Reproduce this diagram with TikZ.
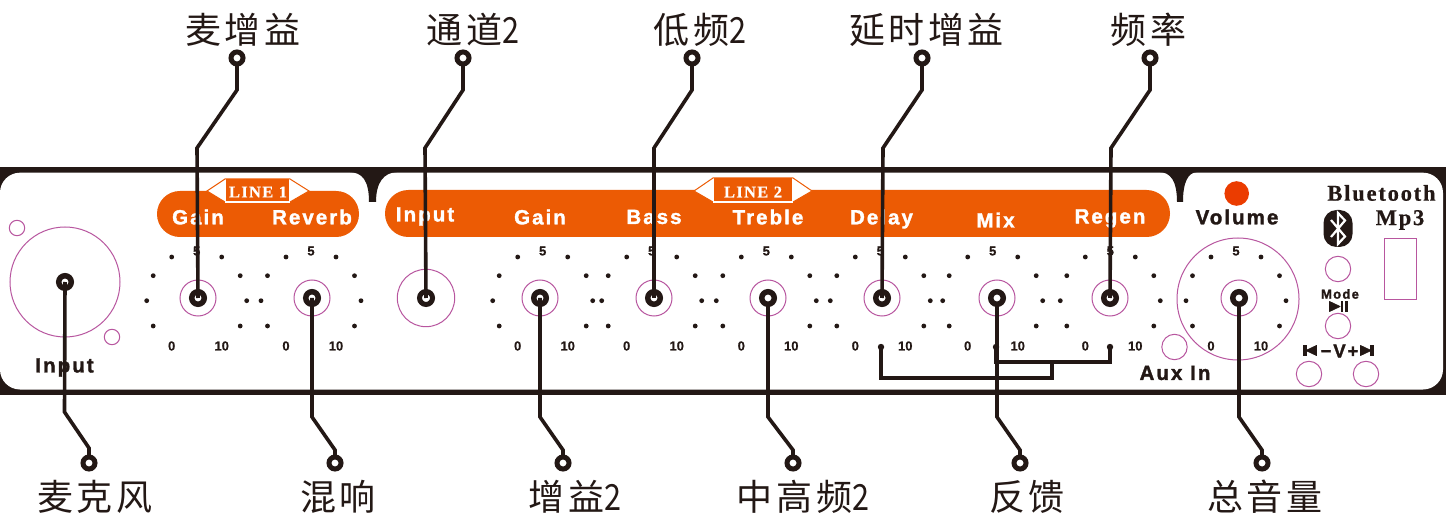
\documentclass[tikz,border=0pt]{standalone}
\usepackage{fontspec}
\usetikzlibrary{calc}
\setmainfont{Liberation Sans}
\newfontfamily\cjkf[LetterSpace=10]{Noto Sans CJK SC}
\newfontfamily\lblf[LetterSpace=10,BoldFeatures={FakeBold=1.6}]{Liberation Sans}
\newfontfamily\numf[BoldFeatures={FakeBold=0.6}]{Liberation Sans}
\newfontfamily\serf[LetterSpace=8,BoldFeatures={FakeBold=0.5}]{Liberation Serif}
\newcommand{\ntwo}{\scalebox{.85}[1]{2}}
\definecolor{ink}{HTML}{231815}
\definecolor{org}{HTML}{EC5B04}
\definecolor{mag}{HTML}{B8569F}
\definecolor{led}{HTML}{EB3C00}
\tikzset{
  x=1pt,y=-1pt,
  cjk/.style={inner sep=0,text=ink,font={\fontsize{36}{36}\selectfont\cjkf}},
  wlabel/.style={inner sep=0,text=white,font={\fontsize{20.5}{20.5}\selectfont\bfseries\lblf}},
  blabel/.style={inner sep=0,text=ink,font={\fontsize{20.5}{20.5}\selectfont\bfseries\lblf}},
  smalllabel/.style={inner sep=0,text=ink,font={\fontsize{13}{13}\selectfont\bfseries\numf}},
  serlabel/.style={inner sep=0,text=ink,font={\fontsize{22.5}{22.5}\selectfont\bfseries\serf}},
  tagtext/.style={inner sep=0,text=white,font={\fontsize{16.5}{16.5}\selectfont\bfseries\serf}},
  term/.style={circle,draw=ink,fill=white,line width=5pt,minimum size=12pt,inner sep=0,outer sep=0},
  knob/.style={circle,draw=ink,fill=white,line width=5.5pt,minimum size=12.5pt,inner sep=0,outer sep=0},
  wire/.style={draw=ink,line width=3.6pt,line join=miter},
  fbwire/.style={draw=ink,line width=3.2pt,line join=miter},
  ring/.style={draw=mag,line width=1pt},
  glyph/.style={fill=ink,draw=ink,line width=.8pt,line join=round},
}
\begin{document}
\begin{tikzpicture}
\useasboundingbox (0,0) rectangle (1446,529);
\fill[white] (0,0) rectangle (1446,529);
% panel
\fill[ink] (0,167.5) rectangle (1446,395);
\fill[white,rounded corners=20pt] (0,172.7) rectangle (1443,389.5);
\fill[ink] (350,172) .. controls (362,172.7) and (369,180) .. (369,202) -- (376,202) .. controls (376,182) and (384,172.7) .. (397,172) -- cycle;
\fill[ink] (1160,172) .. controls (1170,172.7) and (1177,180) .. (1177,202) -- (1183,202) .. controls (1183,182) and (1188,172.7) .. (1197,172) -- cycle;
% pills
\fill[org,rounded corners=22.9pt] (157,191) rectangle (359,237);
\fill[org,rounded corners=23.4pt] (385,190) rectangle (1170,237);
% tags
\draw[org,fill=white,line width=1pt] (207,191) -- (225,179) -- (290,179) -- (309,191) -- (290,202) -- (225,202) -- cycle;
\fill[org] (226,179.5) rectangle (289,201);
\fill[white] (225,201) rectangle (290,203);
\node[tagtext] (tag1) at (258,192) {LINE 1};
\draw[org,fill=white,line width=1pt] (694,191) -- (713,178) -- (793,178) -- (812,191) -- (793,202) -- (713,202) -- cycle;
\fill[org] (714,178.5) rectangle (792,201);
\fill[white] (713,201) rectangle (793,203);
\node[tagtext] (tag2) at (753,192) {LINE 2};
% pill labels
\node[wlabel] (lGain1) at (198,217) {Gain};
\node[wlabel] (lRev) at (312,217) {Reverb};
\node[wlabel] (lIn2) at (425,216.5) {Input};
\node[wlabel] (lGain2) at (540,217) {Gain};
\node[wlabel] (lBass) at (654,217) {Bass};
\node[wlabel] (lTreb) at (768,217) {Treble};
\node[wlabel] (lDel) at (881.5,219) {Delay};
\node[wlabel] (lMix) at (995.5,220) {Mix};
\node[wlabel] (lReg) at (1110,218.5) {Regen};
\node[blabel] (lIn1) at (64.5,367.5) {Input};
\node[blabel] (lVol) at (1237,217) {Volume};
\node[blabel] (lAux) at (1175,373) {Aux In};
% dial scales
\foreach \dc [count=\i] in {196.7,311,542.7,651.7,766.3,880.3,992.7,1110.3,1236}{
  \foreach \dx/\dy in {-25/257,25/257,-43.5/275.7,43.5/275.7,-50/300.7,50/300.7,-43.5/326,43.5/326}
    \fill[ink] (\dc+\dx,\dy) circle (2.4);
  \node[smalllabel] (five\i) at (\dc,251) {5};
  \node[smalllabel] (zero\i) at (\dc-25,346) {0};
  \node[smalllabel] (ten\i) at (\dc+25,346) {10};
}
% rings
\draw[ring] (65,282) circle (55);
\draw[ring] (17,228) circle (7.7);
\draw[ring] (112,337) circle (7.7);
\foreach \cx in {198,312,540,654,768,882,997,1110,1239}
  \draw[ring] (\cx,298) circle (18);
\draw[ring] (426,298) circle (28.7);
\draw[ring] (1238,299) circle (61);
\draw[ring] (1174.5,347) circle (12.7);
\draw[ring] (1338,269) circle (12.7);
\draw[ring] (1338,326) circle (12.7);
\draw[ring] (1309,374) circle (12.7);
\draw[ring] (1366,374) circle (12.7);
\draw[ring] (1384.5,239) rectangle (1416,300);
% right-hand block
\fill[led] (1236.7,193.5) circle (12.3);
\node[serlabel] (lBt) at (1381.5,193) {Bluetooth};
\node[serlabel] (lMp) at (1400,220) {Mp3};
\node[fill=ink,rounded corners=13pt,minimum width=29pt,minimum height=37pt,inner sep=0] (bt) at (1338,228.5) {};
\draw[white,line width=2.2pt,line join=miter] (1331,220) -- (1345,236.5) -- (1338,244) -- (1338,213) -- (1345,220.5) -- (1331,237);
\node[smalllabel,font={\fontsize{13}{13}\selectfont\bfseries\lblf}] (lMode) at (1340,294) {Mode};
\path[glyph] (1329.5,301.5) -- (1340,306.5) -- (1329.5,311.5) -- cycle;
\fill[ink] (1340.5,301) rectangle (1343,312);
\fill[ink] (1345,301) rectangle (1348,312);
\fill[ink] (1303,345) rectangle (1307,356);
\path[glyph] (1316.5,345.5) -- (1306,350.5) -- (1316.5,355.5) -- cycle;
\node[smalllabel,font={\fontsize{18.5}{18.5}\selectfont\bfseries\lblf}] (lV) at (1339.5,351) {−V+};
\path[glyph] (1360.5,345.5) -- (1371,350.5) -- (1360.5,355.5) -- cycle;
\fill[ink] (1370,345) rectangle (1374,356);
% knobs
\node[knob] (kMic) at (65,282) {};
\node[knob] (kGain1) at (198,298) {};
\node[knob] (kRev) at (312,298) {};
\node[knob,line width=5pt,minimum size=13pt] (kIn2) at (426,298) {};
\node[knob] (kGain2) at (540,298) {};
\node[knob] (kBass) at (654,298) {};
\node[knob] (kTreb) at (768,298) {};
\node[knob] (kDel) at (882,298) {};
\node[knob] (kMix) at (997,298) {};
\node[knob] (kReg) at (1110,298) {};
\node[knob] (kVol) at (1239,298) {};
% feedback wiring
\coordinate (fDel) at (881,347);
\coordinate (fMix) at (996,347);
\coordinate (fReg) at (1110,347);
\foreach \p in {fDel,fMix,fReg}\fill[ink] (\p) circle (3.2);
\draw[fbwire] (fDel) -- (881,378) -- (1052,378) -- (1052,362);
\draw[fbwire] (fMix) -- (996,362) -- (1110,362) -- (fReg);
% top terminals
\node[term] (tA) at (237,58) {};
\node[term] (tB) at (463,58) {};
\node[term] (tC) at (692,58) {};
\node[term] (tD) at (922,58) {};
\node[term] (tE) at (1150,58) {};
\node[cjk] (nA) at (243,30) {麦增益};
\node[cjk] (nB) at (473,30) {通道\ntwo};
\node[cjk] (nC) at (700,30) {低频\ntwo};
\node[cjk] (nD) at (926.5,30) {延时增益};
\node[cjk] (nE) at (1148.5,30) {频率};
\draw[wire] (tA) -- (237,90) -- (197,148) -- (kGain1.center);
\draw[wire] (tB) -- (463,90) -- (425,148) -- (kIn2.center);
\draw[wire] (tC) -- (692,90) -- (654,148) -- (kBass.center);
\draw[wire] (tD) -- (922,90) -- (883,148) -- (kDel.center);
\draw[wire] (tE) -- (1150,90) -- (1111,148) -- (kReg.center);
% bottom terminals
\node[term] (bA) at (89,463) {};
\node[term] (bB) at (335,463) {};
\node[term] (bC) at (563,463) {};
\node[term] (bD) at (793,463) {};
\node[term] (bE) at (1020,463) {};
\node[term] (bF) at (1262,463) {};
\node[cjk] (mA) at (95,497) {麦克风};
\node[cjk] (mB) at (338,497) {混响};
\node[cjk] (mC) at (575,497) {增益\ntwo};
\node[cjk] (mD) at (803,497) {中高频\ntwo};
\node[cjk] (mE) at (1027,497) {反馈};
\node[cjk] (mF) at (1265,497) {总音量};
\draw[wire] (kMic.center) -- (64.5,412) -- (89,448) -- (bA);
\draw[wire] (kRev.center) -- (312,417) -- (335,450) -- (bB);
\draw[wire] (kGain2.center) -- (540,417) -- (563,450) -- (bC);
\draw[wire] (kTreb.south) -- (768,417) -- (793,450) -- (bD);
\draw[wire] (kMix.south) -- (997,417) -- (1020,450) -- (bE);
\draw[wire] (kVol.south) -- (1239,417) -- (1262,450) -- (bF);
\end{tikzpicture}
\end{document}
